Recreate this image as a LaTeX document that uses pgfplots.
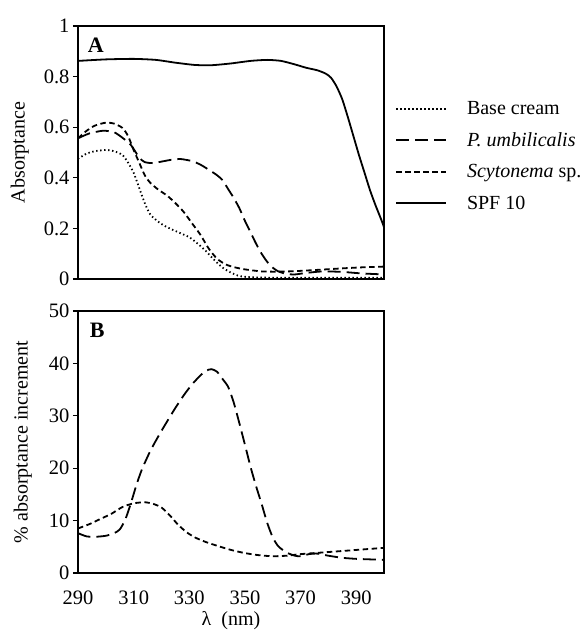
\documentclass[border=0pt]{standalone}
\usepackage{fontspec}
\setmainfont{Liberation Serif}
\usepackage{pgfplots}
\pgfplotsset{compat=1.18}

\pgfplotstableread{
x y
290 0.475
293 0.495
296 0.505
300 0.510
303 0.505
306 0.490
308 0.460
310 0.420
312 0.360
314 0.300
316 0.255
319 0.225
322 0.205
326 0.185
330 0.165
333 0.140
336 0.110
339 0.075
342 0.045
345 0.025
348 0.012
352 0.007
360 0.005
380 0.005
400 0.005
}\basecream

\pgfplotstableread{
x y
290 0.556
294 0.575
299 0.586
303 0.580
306 0.558
309 0.530
312 0.480
314 0.462
317 0.458
320 0.464
324 0.472
327 0.474
331 0.466
334 0.452
337 0.432
340 0.410
342 0.390
344 0.355
346 0.320
348 0.280
350 0.230
352 0.185
354 0.140
356 0.100
358 0.068
360 0.045
362 0.030
365 0.020
368 0.018
372 0.024
378 0.030
385 0.028
392 0.022
400 0.018
}\pumbA

\pgfplotstableread{
x y
290 0.556
293 0.585
296 0.606
300 0.618
303 0.614
306 0.597
308 0.565
310 0.510
312 0.460
314 0.410
316 0.380
319 0.352
322 0.330
325 0.300
328 0.265
331 0.220
334 0.175
337 0.120
340 0.080
343 0.058
346 0.047
350 0.038
356 0.030
362 0.029
368 0.031
376 0.036
385 0.042
392 0.046
400 0.049
}\scytA

\pgfplotstableread{
x y
290 0.862
300 0.868
310 0.870
318 0.866
325 0.855
332 0.846
338 0.845
345 0.852
352 0.862
358 0.866
363 0.862
368 0.848
372 0.835
376 0.825
379 0.812
381 0.795
383 0.760
385 0.710
387 0.640
389 0.565
391 0.490
393 0.420
395 0.350
397 0.290
399 0.235
400 0.205
}\spf

\pgfplotstableread{
x y
290 7.6
293 7.0
296 6.9
300 7.1
303 7.6
305 8.3
307 10.2
309 13.3
311 16.8
313 19.8
316 23.3
319 26.2
322 28.9
325 31.5
328 33.9
331 36.0
334 37.7
336 38.6
338 38.9
340 38.4
342 37.0
344 35.5
346 32.5
348 28.6
350 24.5
352 20.3
354 16.6
356 13.2
358 9.6
360 6.8
362 5.1
365 3.9
368 3.3
370 3.2
373 3.6
376 3.7
380 3.3
385 2.9
390 2.7
395 2.6
400 2.5
}\pumbB

\pgfplotstableread{
x y
290 8.5
294 9.3
298 10.3
302 11.3
306 12.6
310 13.3
314 13.5
317 13.2
320 12.5
323 11.0
326 9.2
329 7.8
332 6.8
336 5.9
340 5.2
345 4.4
350 3.8
355 3.4
360 3.2
365 3.3
370 3.6
375 3.8
380 4.0
385 4.2
390 4.4
395 4.6
400 4.8
}\scytB

\tikzset{
  dotS/.style={line width=1.8bp, dash pattern=on 1.4bp off 2.6bp},
  longS/.style={line width=1.8bp, dash pattern=on 13bp off 6bp},
  shortS/.style={line width=1.8bp, dash pattern=on 5.5bp off 3.5bp},
  solidS/.style={line width=1.8bp},
}

\pgfplotsset{
  myaxis/.style={
    scale only axis,
    width=306bp,
    xmin=290, xmax=400,
    font=\fontsize{20bp}{24bp}\selectfont,
    axis line style={line width=1.1bp},
    every tick/.style={line width=1.1bp, black},
    tick align=outside,
    major tick length=5bp,
    ytick pos=left,
    xtick style={draw=none},
    /pgf/number format/assume math mode=true,
    tick label style={font=\fontsize{20.5bp}{24bp}\selectfont},
    label style={font=\fontsize{20bp}{24bp}\selectfont},
    every axis plot/.append style={black, no marks, smooth, tension=0.4},
  }
}

\begin{document}
\begin{tikzpicture}
\path[use as bounding box] (0bp,0bp) rectangle (581bp,635bp);

\begin{axis}[myaxis,
  at={(78bp,356bp)}, anchor=south west,
  height=253bp,
  ymin=0, ymax=1,
  ytick={0,0.2,0.4,0.6,0.8,1},
  yticklabels={0,0.2,0.4,0.6,0.8,1},
  xtick=\empty,
  ylabel={Absorptance},
  ylabel style={at={(axis description cs:-0.19,0.5)}, anchor=center, rotate=0},
  legend style={at={(axis description cs:1.036,0.71)}, anchor=north west, draw=none, fill=none,
     font=\fontsize{20bp}{24bp}\selectfont, row sep=12.5bp, inner sep=0pt,
     /tikz/every odd column/.append style={column sep=18bp}},
  legend cell align=left,
  legend image code/.code={\draw[#1] (0bp,0bp) -- (50bp,0bp);},
]
\addplot[dotS] table {\basecream};
\addlegendentry{Base cream}
\addplot[longS] table {\pumbA};
\addlegendentry{\textit{P. umbilicalis}}
\addplot[shortS] table {\scytA};
\addlegendentry{\textit{Scytonema} sp.}
\addplot[solidS] table {\spf};
\addlegendentry{SPF 10}
\node[anchor=north west, inner sep=0pt, font=\fontsize{22bp}{26bp}\selectfont\bfseries] at (axis description cs:0.032,0.953) {A};
\end{axis}

\begin{axis}[myaxis,
  at={(78bp,62bp)}, anchor=south west,
  height=262bp,
  ymin=0, ymax=50,
  ytick={0,10,20,30,40,50},
  xtick={290,310,330,350,370,390},
  xticklabel style={yshift=-9bp},
  xlabel={λ\ \ (nm)},
  xlabel style={at={(axis description cs:0.5,-0.18)}, anchor=center},
  ylabel={\% absorptance increment},
  ylabel style={at={(axis description cs:-0.18,0.5)}, anchor=center},
]
\addplot[longS] table {\pumbB};
\addplot[shortS] table {\scytB};
\node[anchor=north west, inner sep=0pt, font=\fontsize{22bp}{26bp}\selectfont\bfseries] at (axis description cs:0.038,0.954) {B};
\end{axis}
\end{tikzpicture}
\end{document}
